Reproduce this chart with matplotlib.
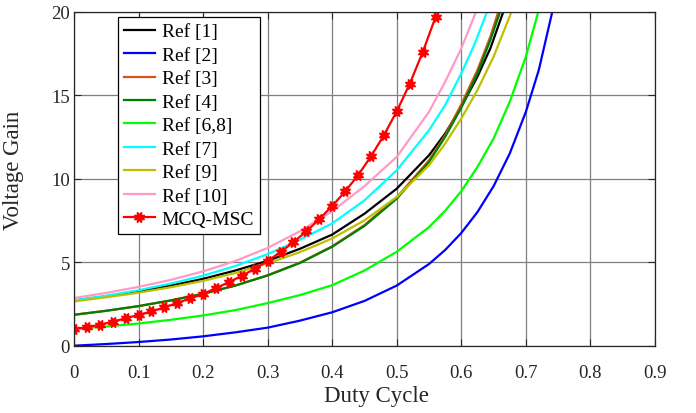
import matplotlib
matplotlib.use("Agg")
import matplotlib.pyplot as plt

# ---- data ----
ref1_d = [0.0, 0.05, 0.1, 0.15, 0.2, 0.25, 0.3, 0.35, 0.4, 0.45, 0.5, 0.55, 0.575, 0.6, 0.625, 0.645, 0.667]
ref1_g = [2.70, 2.96, 3.25, 3.60, 4.00, 4.50, 5.08, 5.80, 6.65, 7.90, 9.40, 11.4, 12.7, 14.3, 16.1, 17.8, 20.2]

ref2_d = [0.0, 0.05, 0.1, 0.15, 0.2, 0.25, 0.3, 0.35, 0.4, 0.45, 0.5, 0.55, 0.575, 0.6, 0.625, 0.65,
          0.675, 0.7, 0.72, 0.741]
ref2_g = [0.0, 0.10, 0.22, 0.37, 0.56, 0.80, 1.08, 1.50, 2.00, 2.68, 3.60, 4.89, 5.73, 6.75, 8.0, 9.55,
          11.5, 14.0, 16.5, 20.0]

ref3_d = [0.0, 0.05, 0.1, 0.15, 0.2, 0.25, 0.3, 0.35, 0.4, 0.45, 0.5, 0.55, 0.575, 0.6, 0.625, 0.645, 0.659]
ref3_g = [1.85, 2.09, 2.37, 2.71, 3.11, 3.60, 4.22, 4.97, 5.95, 7.22, 8.88, 11.1, 12.6, 14.45, 16.5, 18.5, 20.2]

ref4_d = [0.0, 0.05, 0.1, 0.15, 0.2, 0.25, 0.3, 0.35, 0.4, 0.45, 0.5, 0.55, 0.575, 0.6, 0.625, 0.645, 0.663]
ref4_g = [1.85, 2.09, 2.37, 2.71, 3.11, 3.60, 4.20, 4.95, 5.92, 7.17, 8.80, 11.0, 12.5, 14.25, 16.3, 18.3, 20.3]

ref68_d = [0.0, 0.05, 0.1, 0.15, 0.2, 0.25, 0.3, 0.35, 0.4, 0.45, 0.5, 0.55, 0.575, 0.6, 0.625, 0.65,
           0.675, 0.7, 0.72]
ref68_g = [1.0, 1.15, 1.33, 1.55, 1.81, 2.13, 2.55, 3.03, 3.62, 4.50, 5.62, 7.10, 8.08, 9.25, 10.7, 12.4,
           14.6, 17.3, 20.1]

ref7_d = [0.0, 0.05, 0.1, 0.15, 0.2, 0.25, 0.3, 0.35, 0.4, 0.45, 0.5, 0.55, 0.575, 0.6, 0.62, 0.64]
ref7_g = [2.72, 2.99, 3.32, 3.72, 4.19, 4.77, 5.48, 6.34, 7.32, 8.70, 10.5, 12.9, 14.4, 16.3, 18.0, 20.0]

ref9_d = [0.0, 0.05, 0.1, 0.15, 0.2, 0.25, 0.3, 0.35, 0.4, 0.45, 0.5, 0.55, 0.575, 0.6, 0.625, 0.65, 0.68]
ref9_g = [2.65, 2.90, 3.17, 3.50, 3.88, 4.35, 4.92, 5.60, 6.42, 7.50, 8.90, 10.8, 12.1, 13.6, 15.3, 17.3, 20.2]

ref10_d = [0.0, 0.05, 0.1, 0.15, 0.2, 0.25, 0.3, 0.35, 0.4, 0.45, 0.5, 0.55, 0.575, 0.6, 0.626]
ref10_g = [2.85, 3.16, 3.52, 3.94, 4.45, 5.07, 5.85, 6.85, 8.05, 9.55, 11.3, 14.0, 15.8, 17.8, 20.3]

mcq_d = [0.00, 0.02, 0.04, 0.06, 0.08, 0.10, 0.12, 0.14, 0.16, 0.18, 0.20, 0.22, 0.24, 0.26,
         0.28, 0.30, 0.32, 0.34, 0.36, 0.38, 0.40, 0.42, 0.44, 0.46, 0.48, 0.50, 0.52, 0.54, 0.56]
mcq_g = [1.00, 1.11, 1.25, 1.44, 1.64, 1.84, 2.05, 2.29, 2.56, 2.83, 3.10, 3.45, 3.80, 4.19,
         4.60, 5.08, 5.60, 6.20, 6.84, 7.58, 8.36, 9.23, 10.2, 11.33, 12.59, 14.03, 15.67, 17.55, 19.66]

labels = ["Ref [1]", "Ref [2]", "Ref [3]", "Ref [4]", "Ref [6,8]", "Ref [7]", "Ref [9]", "Ref [10]", "MCQ-MSC"]
x_ticks = [0, 0.1, 0.2, 0.3, 0.4, 0.5, 0.6, 0.7, 0.8, 0.9]
x_tick_labels = ["0", "0.1", "0.2", "0.3", "0.4", "0.5", "0.6", "0.7", "0.8", "0.9"]
y_ticks = [0, 5, 10, 15, 20]

series = [
    (ref1_d, ref1_g, "#000000"),
    (ref2_d, ref2_g, "#0000FF"),
    (ref3_d, ref3_g, "#D95319"),
    (ref4_d, ref4_g, "#008000"),
    (ref68_d, ref68_g, "#00FF00"),
    (ref7_d, ref7_g, "#00FFFF"),
    (ref9_d, ref9_g, "#BFBF00"),
    (ref10_d, ref10_g, "#FF99C8"),
]

plt.rcParams["font.family"] = ["Liberation Serif", "DejaVu Serif"]

fig = plt.figure(figsize=(6.96, 4.14), dpi=100)
ax = fig.add_axes([74 / 696, 1 - 346.7 / 414, (655 - 74) / 696, (346.7 - 12.5) / 414])

for (dx, gy, c), lab in zip(series, labels[:8]):
    ax.plot(dx, gy, color=c, lw=1.6, label=lab, solid_joinstyle="round")

ax.plot(mcq_d, mcq_g, color="#FF0000", lw=1.6, marker=(8, 1, 22.5), markersize=8,
        markerfacecolor="#FF0000", markeredgecolor="#FF0000", label=labels[8])

ax.set_xlim(0, 0.9)
ax.set_ylim(0, 20)
ax.set_xticks(x_ticks)
ax.set_xticklabels(x_tick_labels)
ax.set_yticks(y_ticks)
ax.grid(True, color="#7F7F7F", lw=0.9)
ax.set_axisbelow(True)
ax.tick_params(direction="in", length=5, width=0.8, labelsize=13.5, colors="#262626",
               top=True, right=True)
ax.tick_params(axis="x", pad=13)
ax.tick_params(axis="y", pad=3)
for s in ax.spines.values():
    s.set_color("#262626")
    s.set_linewidth(0.9)

ax.set_xlabel("Duty Cycle", fontsize=16.5, color="#262626")
ax.xaxis.set_label_coords((376 - 74) / 581, -(386 - 346.7) / 334.2)
ax.set_ylabel("Voltage Gain", fontsize=16.5, color="#262626")
ax.yaxis.set_label_coords(-(74 - 24) / 581, (346.7 - 170) / 334.2)

leg = ax.legend(loc="upper left", bbox_to_anchor=((118 - 74) / 581, (346.7 - 18) / 334.2),
                borderaxespad=0, fontsize=14, frameon=True, fancybox=False,
                handlelength=1.6, handletextpad=0.35, labelspacing=0.3, borderpad=0.3)
leg.get_frame().set_edgecolor("#000000")
leg.get_frame().set_linewidth(0.9)
leg.get_frame().set_alpha(1)

fig.savefig("out.png", dpi=100)
